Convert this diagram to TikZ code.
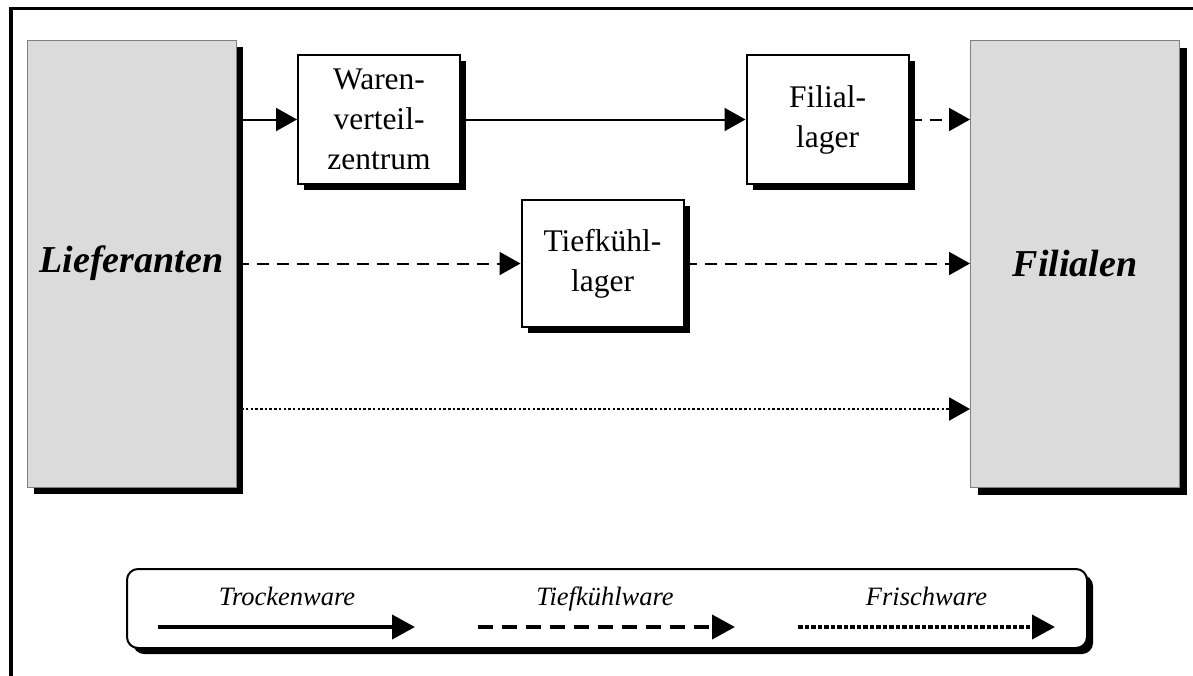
\documentclass[tikz,border=0pt]{standalone}
\usepackage{fontspec}
\setmainfont{Liberation Serif}
\usetikzlibrary{arrows.meta,shadows}
\begin{document}
\begin{tikzpicture}[x=1pt,y=-1pt,
  bigbox/.style={draw=black!50, line width=1pt, fill=black!14, minimum width=209pt, minimum height=447pt, inner sep=0pt,
    general shadow={fill=black, shadow xshift=7pt, shadow yshift=-7pt},
    font=\fontsize{38}{44}\selectfont\bfseries\itshape},
  midbox/.style={draw=black, line width=2pt, fill=white, minimum width=162pt, minimum height=129pt, inner sep=0pt, align=center,
    general shadow={fill=black, shadow xshift=6pt, shadow yshift=-6pt},
    font=\fontsize{31.5}{40}\selectfont},
  legbox/.style={draw=black, line width=2pt, fill=white, rounded corners=11pt, minimum width=960pt, minimum height=79pt, inner sep=0pt,
    general shadow={fill=black, shadow xshift=6pt, shadow yshift=-6pt}},
  legtext/.style={anchor=base, inner sep=0pt, font=\fontsize{26.5}{30}\selectfont\itshape},
  conn/.style={line width=2pt, -{Triangle[length=21pt,width=23pt]}},
  legconn/.style={line width=4pt, -{Triangle[length=23pt,width=24pt]}},
  dashline/.style={dash pattern=on 12pt off 8pt},
  dotline/.style={line width=2.5pt, dash pattern=on 2.5pt off 2.2pt},
  legdash/.style={dash pattern=on 15pt off 9pt},
  legdot/.style={dash pattern=on 4.5pt off 2pt}
]
\useasboundingbox (0,0) rectangle (1193,675);
% outer frame (top and left only)
\draw[line width=3.5pt] (11,690) -- (11,8.5) -- (1210,8.5);

% main nodes
\node[bigbox] (lief) at (131.5,263.5) {Lieferanten};
\node[bigbox] (fil) at (1075,264) {Filialen};
\node[midbox] (wvz) at (379,119.5) {Waren-\\verteil-\\zentrum};
\node[midbox] (fl) at (827.5,119.5) {Filial-\\lager};
\node[midbox, minimum height=127pt] (tkl) at (602.5,263.5) {Tiefkühl-\\lager};
\coordinate (dotrow) at (600,409);

% connectors
\draw[conn] (lief.east |- wvz.west) -- (wvz.west);
\draw[conn] (wvz.east) -- (fl.west);
\draw[conn, dashline] (fl.east) -- (fil.west |- fl.east);
\draw[conn, dashline] (lief.east |- tkl.west) -- (tkl.west);
\draw[conn, dashline] (tkl.east) -- (fil.west |- tkl.east);
\draw[conn, dotline] (lief.east |- dotrow) -- (fil.west |- dotrow);

% legend
\node[legbox] (leg) at (607,608.5) {};
\node[legtext] (lt1) at (287,605) {Trockenware};
\node[legtext] (lt2) at (605,605) {Tiefkühlware};
\node[legtext] (lt3) at (926.5,605) {Frischware};
\coordinate (a1s) at (158,627); \coordinate (a1e) at (415,627);
\coordinate (a2s) at (478,627); \coordinate (a2e) at (735,627);
\coordinate (a3s) at (798,627); \coordinate (a3e) at (1055,627);
\draw[legconn] (a1s) -- (a1e);
\draw[legconn, legdash] (a2s) -- (a2e);
\draw[legconn, legdot] (a3s) -- (a3e);
\end{tikzpicture}
\end{document}
